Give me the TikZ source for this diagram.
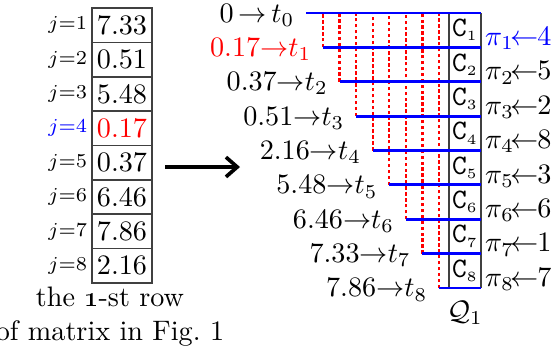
\documentclass[tikz,border=0pt]{standalone}
\usepackage{amsmath, amssymb}
\usepackage{xcolor}
\usepackage{tikz}
\usetikzlibrary{arrows.meta, positioning, calc}
\tikzset{
    cella/.style={draw=black!75, semithick, minimum width=21.3pt, minimum height=12.2pt, inner sep=0pt},
    indice/.style={font=\scriptsize, inner sep=1.2pt, anchor=east},
    soglia/.style={blue, line width=1pt},
    tratto/.style={red, line width=0.8pt, dash pattern=on 1.2pt off 0.9pt},
    bordo/.style={black!75, semithick}
}

\begin{document}
\begin{tikzpicture}[x=0.355pt, y=-0.355pt]
    \useasboundingbox (0,0) rectangle (554,348);
    % Riga della matrice
    \foreach \v/\cv/\cj [count=\j] in {7.33/black/black, 0.51/black/black, 5.48/black/black, 0.17/red/blue,
                                       0.37/black/black, 6.46/black/black, 7.86/black/black, 2.16/black/black}{
        \node[cella, text=\cv] (r\j) at (122, {8+34.375*(\j-0.5)}) {$\v$};
        \node[indice, text=\cj] (j\j) at (r\j.west) {$j{=}\j$};
    }
    \node[align=center] (didascalia) at (110,317) {the \oldstylenums{1}-st row\\of matrix in Fig.~1};
    
    % Freccia
    \coordinate (fa) at (165,167);
    \coordinate (fb) at (240,167);
    \draw[-{Straight Barb[length=4pt, width=7pt]}, line width=1.3pt] (fa) -- (fb);
    
    % Soglie t_k
    \foreach \k in {0,...,8}{
        \pgfmathsetmacro{\yk}{13+34.375*\k}
        \pgfmathsetmacro{\xk}{\k==0 ? 306 : 323+16.57*(\k-1)}
        \coordinate (s\k) at (\xk,\yk);
        \coordinate (e\k) at (481,\yk);
    }
    \foreach \k in {1,...,8}{
        \draw[tratto] (s\k) -- (s\k |- e0);
    }
    \draw[bordo] (449,13) -- (449,288);
    \draw[bordo] (e0) -- (e8);
    \foreach \k in {0,...,8}{
        \draw[soglia] (s\k) -- (e\k);
    }
    
    % Etichette
    \node[anchor=mid east, inner sep=0pt, xshift=-4pt, yshift=-1.3pt] (t0) at (s0) {$0\,{\to}\,t_0$};
    \foreach \t/\c [count=\k] in {0.17/red, 0.37/black, 0.51/black, 2.16/black, 5.48/black, 6.46/black, 7.33/black, 7.86/black}{
        \node[anchor=mid east, inner sep=0pt, xshift=-4pt, yshift=-1pt, text=\c] (t\k) at (s\k) {$\t{\to}t_\k$};
    }
    \foreach \p/\c [count=\k] in {4/blue, 5/black, 2/black, 8/black, 3/black, 6/black, 1/black, 7/black}{
        \node[inner sep=0pt] (c\k) at (465, {13+34.375*(\k-0.5)}) {$\mathtt{C}_{\scriptscriptstyle\k}$};
        \node[anchor=mid west, inner sep=0pt, xshift=1.3pt, yshift=-3.3pt, text=\c] (p\k) at (481, {13+34.375*(\k-0.5)}) {$\pi_\k\mkern-2mu{\leftarrow}\mkern-1mu\p$};
    }
    \node (q) at (465,313) {$\mathcal{Q}_1$};
\end{tikzpicture}
\end{document}
